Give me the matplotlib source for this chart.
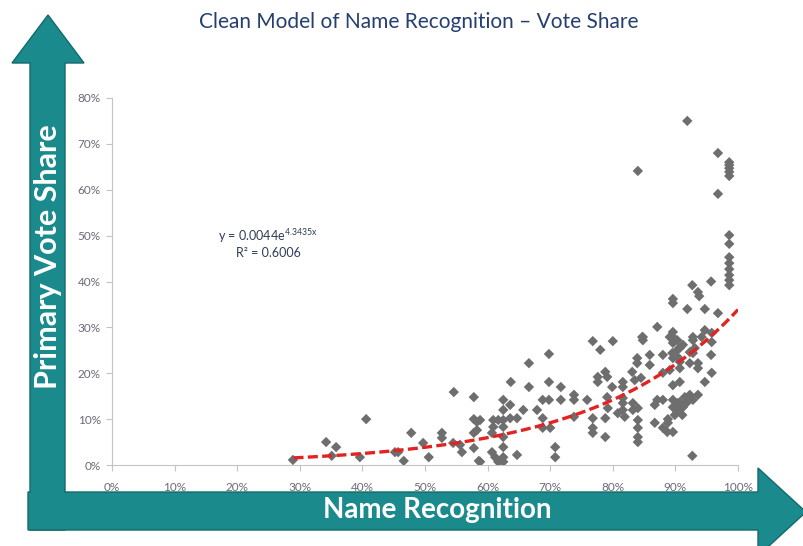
import matplotlib
matplotlib.use("Agg")
import matplotlib.pyplot as plt
import numpy as np
from matplotlib.patches import Polygon

plt.rcParams['font.family'] = ['Lato', 'DejaVu Sans']

# ---- data (percent) ----
name_recognition = [
    28.9, 34.2, 35.8, 35.1, 40.6, 39.6, 45.2, 45.7, 46.6, 47.8, 49.7, 50.6, 52.7, 52.7,
    54.6, 54.5, 55.6, 55.9, 57.8, 57.8, 58.3, 57.8, 57.8, 58.6,
    58.8, 58.3, 58.8, 60.9, 61.7, 60.9, 60.7, 60.7, 61.2, 61.7,
    62.5, 62.5, 62.5, 62.5, 62.5, 62.5, 62.5, 62.5,
    63.7, 63.6, 63.6, 64.7, 64.7, 65.7, 66.6, 66.6, 67.9, 68.8, 69.8, 68.8, 68.8, 70.0,
    69.8, 69.8, 70.8, 70.8,
    71.7, 71.7, 73.8, 73.8, 73.8, 75.9, 76.8, 78.0, 80.0, 76.8, 76.8, 76.8, 77.6, 77.6,
    78.8, 79.1, 79.9, 79.1, 79.2, 78.8, 78.8, 80.8, 83.9, 83.9, 84.7, 84.5,
    83.1, 81.6, 81.6, 83.5, 81.6, 81.6, 81.6, 81.9, 83.2, 83.2, 84.0, 84.0, 84.0, 84.0, 84.0,
    98.6, 98.6, 98.6, 98.6, 98.6, 98.6, 98.6, 98.6, 98.6, 98.6, 98.6, 98.6, 98.6,
    96.8, 96.8, 91.9, 84.0, 95.7, 92.7, 93.6, 93.8, 89.6, 89.6, 91.9, 94.7, 96.8, 87.1,
    84.8, 84.8, 89.6, 89.6, 90.3, 89.1, 89.6, 91.2, 90.7, 90.3, 92.8, 92.8, 94.2, 94.7,
    95.8, 95.8, 85.9, 85.9, 88.0, 89.5, 89.6, 90.4, 90.7, 92.3, 92.8, 93.1, 92.3, 93.6,
    93.6, 95.7, 90.7, 95.8, 94.7, 89.6, 90.7, 88.0, 89.1,
    87.1, 88.0, 86.7, 89.6, 90.3, 90.7, 91.5, 92.3, 93.6, 92.8, 91.9, 89.6, 90.3, 90.7,
    91.2, 89.9, 91.1, 86.7, 88.0, 88.8, 88.8, 89.6, 88.7, 92.7,
]
vote_share = [
    1.1, 5.0, 3.9, 2.0, 10.0, 1.7, 2.8, 2.8, 0.9, 7.0, 4.8, 1.7, 7.0, 5.9,
    15.9, 4.8, 4.4, 2.8, 14.8, 10.0, 9.4, 7.0, 3.7, 0.9,
    9.8, 7.6, 0.7, 9.8, 9.8, 8.3, 7.0, 2.8, 1.7, 0.7,
    14.2, 12.0, 9.8, 8.3, 6.1, 3.9, 1.7, 0.7,
    18.1, 13.1, 10.2, 10.2, 2.2, 12.0, 22.2, 17.0, 12.0, 14.2, 14.2, 10.2, 8.1, 8.1,
    24.2, 18.1, 3.9, 1.7,
    17.0, 14.2, 15.3, 14.2, 10.5, 14.2, 27.0, 25.1, 27.0, 10.2, 8.1, 7.0, 19.2, 18.1,
    20.3, 19.2, 17.0, 14.8, 12.4, 10.2, 6.1, 11.3, 23.3, 22.2, 27.9, 19.0,
    20.3, 18.1, 17.0, 18.5, 14.6, 13.5, 12.0, 10.5, 13.5, 12.0, 12.4, 9.8, 8.1, 6.1, 5.0,
    66.0, 65.4, 64.7, 63.9, 63.0, 50.1, 48.2, 45.3, 44.0, 42.7, 41.4, 40.3, 39.2,
    68.0, 59.1, 75.0, 64.1, 40.0, 39.2, 37.7, 36.8, 36.2, 35.3, 34.0, 34.0, 33.1, 30.1,
    27.9, 27.2, 29.0, 27.9, 27.2, 27.9, 26.6, 26.2, 25.5, 25.1, 27.9, 27.2, 27.9, 29.4,
    28.8, 26.8, 24.0, 21.8, 24.0, 24.4, 23.3, 23.5, 22.5, 24.6, 24.4, 25.5, 22.2, 22.2,
    21.1, 24.0, 21.1, 20.1, 18.1, 17.4, 18.1, 20.1, 20.7,
    14.2, 14.2, 13.1, 14.2, 13.5, 13.7, 14.8, 15.3, 15.3, 14.2, 13.7, 12.6, 11.6, 12.0,
    12.6, 10.9, 10.9, 9.2, 8.1, 9.2, 10.0, 7.2, 7.2, 2.0,
]
trend_a = 0.0044
trend_b = 4.3435
r_squared = 0.6006
trend_start = 0.29
x_ticks = [0, 10, 20, 30, 40, 50, 60, 70, 80, 90, 100]
y_ticks = [0, 10, 20, 30, 40, 50, 60, 70, 80]

W, H = 804, 546
fig = plt.figure(figsize=(W / 100, H / 100), dpi=100)
fig.patch.set_facecolor('white')

# background layer for the big teal arrows (pixel coords)
bg = fig.add_axes([0, 0, 1, 1])
bg.set_xlim(0, W)
bg.set_ylim(H, 0)
bg.axis('off')
teal = '#1b8a8c'
edge = '#136a6b'
vert = [(30, 530), (30, 63), (12, 63), (48, 15), (84, 63), (65, 63), (65, 530)]
horiz = [(28, 492), (758, 492), (758, 468), (806, 512), (758, 556), (758, 530), (28, 530)]
bg.add_patch(Polygon(vert, closed=True, facecolor=teal, edgecolor=edge, lw=1.0))
bg.add_patch(Polygon(horiz, closed=True, facecolor=teal, edgecolor=edge, lw=1.0))
bg.add_patch(Polygon([(31, 480), (64, 480), (64, 529), (31, 529)], closed=True,
                     facecolor=teal, edgecolor='none'))
bg.text(48, 257, 'Primary Vote Share', rotation=90, color='white', fontsize=22,
        fontweight='bold', ha='center', va='center')
bg.text(437, 510, 'Name Recognition', color='white', fontsize=20,
        fontweight='bold', ha='center', va='center')
bg.text(419, 22, 'Clean Model of Name Recognition \u2013 Vote Share', color='#243f70',
        fontsize=15, ha='center', va='center')

# main chart
ax = fig.add_axes([112 / W, 1 - 465 / H, 626 / W, 367 / H])
ax.patch.set_alpha(0)
x = np.array(name_recognition) / 100
y = np.array(vote_share) / 100
ax.scatter(x, y, marker='D', s=28, color='#6e6e6e', edgecolors='none', zorder=3)
xt = np.linspace(trend_start, 1.0, 200)
ax.plot(xt, trend_a * np.exp(trend_b * xt), color='#e32222', lw=2.4,
        dashes=(3, 1.3), zorder=4)

ax.set_xlim(0, 1)
ax.set_ylim(0, 0.8)
ax.set_xticks([t / 100 for t in x_ticks])
ax.set_xticklabels([f'{t}%' for t in x_ticks])
ax.set_yticks([t / 100 for t in y_ticks])
ax.set_yticklabels([f'{t}%' for t in y_ticks])
for s in ['top', 'right']:
    ax.spines[s].set_visible(False)
for s in ['left', 'bottom']:
    ax.spines[s].set_color('#c4c4c4')
    ax.spines[s].set_linewidth(0.8)
ax.tick_params(axis='both', colors='#c4c4c4', length=4, width=0.8, labelsize=8.5,
               labelcolor='#6a6a78')
ax.tick_params(axis='x', pad=8)
ax.tick_params(axis='y', pad=4)

fig.text(268 / W, 1 - 236 / H, r'y = 0.0044e$^{\mathregular{4.3435x}}$', color='#2f3d55',
         fontsize=9, ha='center', va='center')
fig.text(268 / W, 1 - 253 / H, 'R\u00b2 = 0.6006', color='#2f3d55',
         fontsize=9, ha='center', va='center')

fig.savefig('out.png', dpi=100, facecolor='white')
